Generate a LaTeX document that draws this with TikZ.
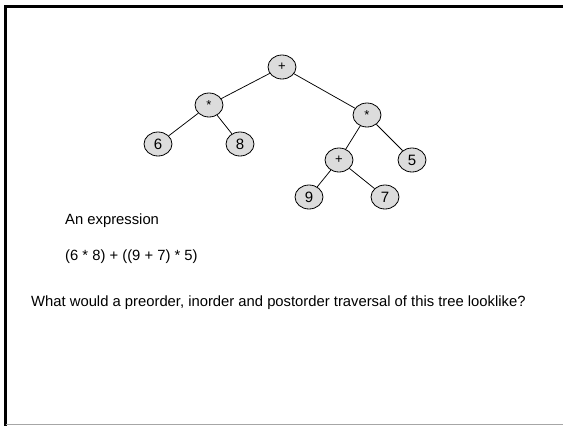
\documentclass[tikz,border=0pt]{standalone}
\usepackage{fontspec}
\setmainfont{Liberation Sans}
\usetikzlibrary{shapes.geometric}
\definecolor{nodegray}{HTML}{DCDCDC}
\tikzset{
  tnode/.style={ellipse, draw=black, line width=0.8pt, fill=nodegray, minimum width=28pt, minimum height=24pt, inner sep=0pt, font=\fontsize{15}{15}\selectfont},
  opnode/.style={tnode, font=\fontsize{13}{13}\selectfont},
  edge/.style={draw=black, line width=0.75pt},
  txt/.style={anchor=west, inner sep=0pt, font=\fontsize{14.8}{16}\selectfont}
}
\begin{document}
\begin{tikzpicture}[x=1pt,y=-1pt]
\useasboundingbox (0,0) rectangle (563,426);
\fill[white] (0,0) rectangle (563,426);
% frame
\draw[black, line width=2.5pt] (5.5,426) -- (5.5,6.5) -- (563,6.5);
\draw[gray!70, line width=1pt] (5.5,424.5) -- (563,424.5);
% nodes
\node[opnode] (root) at (282,67) {+};
\node[opnode] (lm) at (209,105) {*};
\node[tnode] (n6) at (158,144) {6};
\node[tnode] (n8) at (240,144) {8};
\node[opnode] (rm) at (367,115) {*};
\node[opnode] (ip) at (339,160) {+};
\node[tnode] (n5) at (412,160) {5};
\node[tnode] (n9) at (309,197) {9};
\node[tnode] (n7) at (385,197) {7};
% edges
\path[edge] (root) -- (lm);
\path[edge] (root) -- (rm);
\path[edge] (lm) -- (n6);
\path[edge] (lm) -- (n8);
\path[edge] (rm) -- (ip);
\path[edge] (rm) -- (n5);
\path[edge] (ip) -- (n9);
\path[edge] (ip) -- (n7);
% texts
\node[txt] (t1) at (65,221) {An expression};
\node[txt] (t2) at (65,257) {(6 * 8) + ((9 + 7) * 5)};
\node[txt] (t3) at (31,303) {What would a preorder, inorder and postorder traversal of this tree looklike?};
\end{tikzpicture}
\end{document}
